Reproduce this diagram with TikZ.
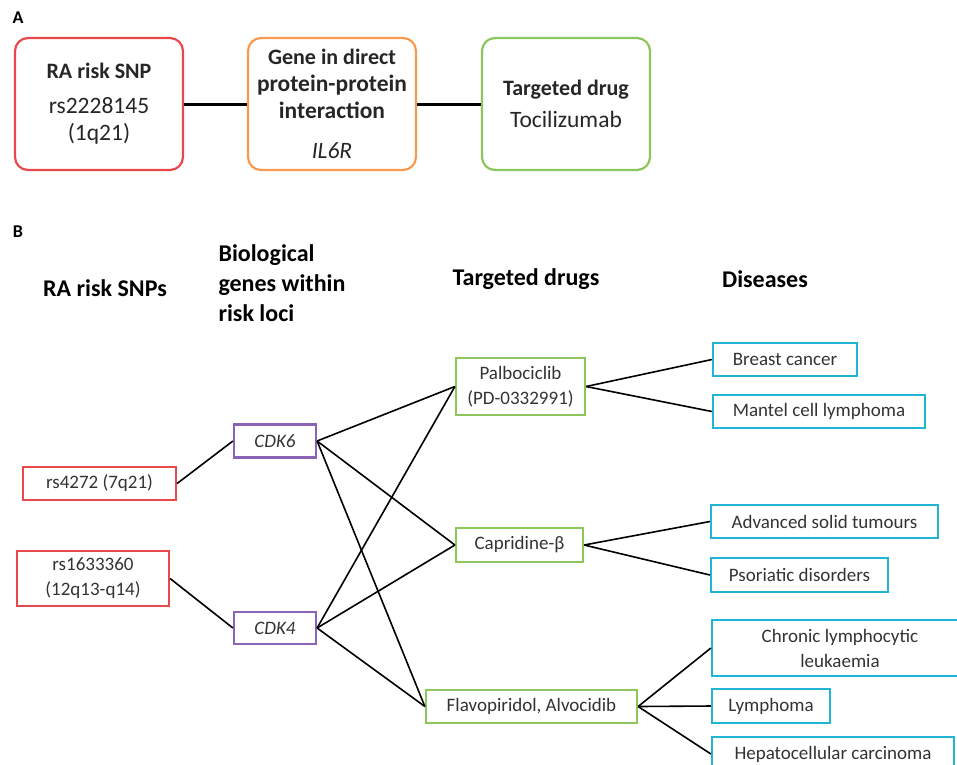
\documentclass[tikz,border=0pt]{standalone}
\usepackage{fontspec}
\setmainfont{Carlito}
\usetikzlibrary{positioning}
\definecolor{riskred}{HTML}{E8474C}
\definecolor{geneorange}{HTML}{F79A4E}
\definecolor{druggreen}{HTML}{8DC65A}
\definecolor{genepurple}{HTML}{8A63B5}
\definecolor{diseasecyan}{HTML}{1FB5D3}

\begin{document}
\begin{tikzpicture}[x=1pt, y=-1pt,
  abox/.style={draw=#1, line width=2.2pt, rounded corners=13pt, minimum width=168pt,
    minimum height=132pt, align=center, text=black!85,
    font=\fontsize{23.5}{27}\selectfont},
  bbox/.style={draw=#1, line width=2.2pt, align=center, inner sep=2pt,
    font=\fontsize{19}{25}\selectfont, text=black!80},
  head/.style={font=\bfseries\fontsize{24}{30}\selectfont},
  panel/.style={font=\bfseries\fontsize{18}{20}\selectfont},
  link/.style={line width=1.6pt}]
  \useasboundingbox (0,0) rectangle (957,764);
  \clip (0,0) rectangle (957,764);

  % panel A
  \node (labA) at (18,18) [panel] {A};
  \node (snpA) at (99,104) [abox=riskred] {{\bfseries\fontsize{22}{24}\selectfont RA risk SNP}\\[8pt] rs2228145\\ (1q21)};
  \node (geneA) at (332,104) [abox=geneorange] {\bfseries\fontsize{22}{24}\selectfont Gene in direct\\ \bfseries protein-protein\\ \bfseries interaction\\[13pt] \mdseries\itshape\fontsize{23.5}{25}\selectfont IL6R};
  \node (drugA) at (566,104) [abox=druggreen] {{\bfseries\fontsize{22}{24}\selectfont Targeted drug}\\[5pt] Tocilizumab};
  \draw [line width=3pt] (snpA) -- (geneA);
  \draw [line width=3pt] (geneA) -- (drugA);

  % panel B
  \node (labB) at (18,232) [panel] {B};
  \node (hSnp) at (105,288) [head] {RA risk SNPs};
  \node (hGene) at (215,283) [head, anchor=west, align=left] {Biological\\ genes within\\ risk loci};
  \node (hDrug) at (526,279) [head] {Targeted drugs};
  \node (hDis) at (765,279) [head] {Diseases};

  \node (snp1) at (99.5,483.5) [bbox=riskred, minimum width=153pt, minimum height=33pt] {rs4272 (7q21)};
  \node (snp2) at (93,578.5) [bbox=riskred, minimum width=152pt, minimum height=55pt] {rs1633360\\ (12q13-q14)};

  \node (cdk6) at (275,441) [bbox=genepurple, minimum width=82pt, minimum height=33pt] {\textit{CDK6}};
  \node (cdk4) at (275,628) [bbox=genepurple, minimum width=82pt, minimum height=32pt] {\textit{CDK4}};

  \node (palbo) at (520.5,386.5) [bbox=druggreen, minimum width=129pt, minimum height=57pt] {Palbociclib\\ (PD-0332991)};
  \node (capri) at (519.5,545) [bbox=druggreen, minimum width=127pt, minimum height=34pt] {Capridine-β};
  \node (flavo) at (531.5,706.5) [bbox=druggreen, minimum width=211pt, minimum height=33pt] {Flavopiridol, Alvocidib};

  \node (breast) at (785,359.5) [bbox=diseasecyan, minimum width=144pt, minimum height=33pt] {Breast cancer};
  \node (mantel) at (819,411.5) [bbox=diseasecyan, minimum width=212pt, minimum height=33pt] {Mantel cell lymphoma};
  \node (solid) at (824.5,521.5) [bbox=diseasecyan, minimum width=227pt, minimum height=33pt] {Advanced solid tumours};
  \node (psor) at (799.5,575) [bbox=diseasecyan, minimum width=177pt, minimum height=34pt] {Psoriatic disorders};
  \node (cll) at (840,648) [bbox=diseasecyan, minimum width=256pt, minimum height=56pt] {Chronic lymphocytic\\ leukaemia};
  \node (lymph) at (771,706) [bbox=diseasecyan, minimum width=118pt, minimum height=34pt] {Lymphoma};
  \node (hcc) at (833,754) [bbox=diseasecyan, minimum width=242pt, minimum height=34pt] {Hepatocellular carcinoma};

  \draw [link] (snp1.east) -- (cdk6.west);
  \draw [link] (snp2.east) -- (cdk4.west);
  \foreach \g in {cdk6, cdk4} {
    \draw [link] (\g.east) -- (palbo.west);
    \draw [link] (\g.east) -- (capri.west);
    \draw [link] (\g.east) -- (flavo.west);
  }
  \draw [link] (palbo.east) -- (breast.west);
  \draw [link] (palbo.east) -- (mantel.west);
  \draw [link] (capri.east) -- (solid.west);
  \draw [link] (capri.east) -- (psor.west);
  \draw [link] (flavo.east) -- (cll.west);
  \draw [link] (flavo.east) -- (lymph.west);
  \draw [link] (flavo.east) -- (hcc.west);
\end{tikzpicture}
\end{document}
